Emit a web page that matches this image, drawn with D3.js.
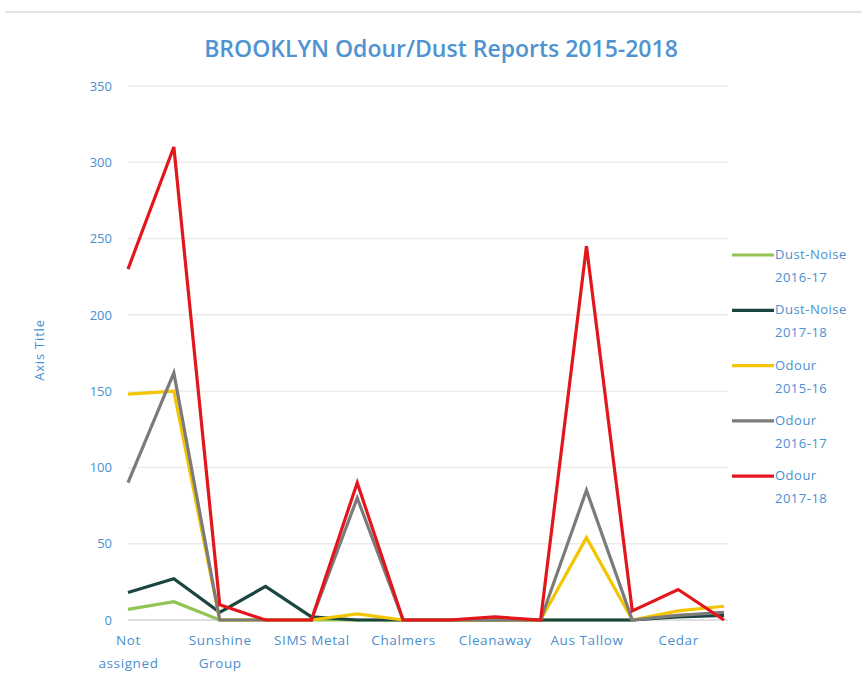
<!DOCTYPE html>
<html lang="en">
<head>
  <meta charset="UTF-8">
  <title>BROOKLYN Odour/Dust Reports 2015-2018</title>
  <script src="https://d3js.org/d3.v7.min.js"></script>
  <style>
    body { margin: 0; background: white; font-family: "Open Sans", Arial, sans-serif; }
    svg { display: block; }
  </style>
</head>
<body>
  <div id="chart"></div>
  <script>
    // categories (every other one is labelled on the axis, like Excel does)
    const categories = ["Not assigned", "cat-1", "Sunshine Group", "cat-3", "SIMS Metal", "cat-5",
      "Chalmers", "cat-7", "Cleanaway", "cat-9", "Aus Tallow", "cat-11", "Cedar", "cat-13"];
    const tickLabels = ["Not assigned", "Sunshine Group", "SIMS Metal", "Chalmers", "Cleanaway", "Aus Tallow", "Cedar"];

    const seriesNames = ["Dust-Noise 2016-17", "Dust-Noise 2017-18", "Odour 2015-16", "Odour 2016-17", "Odour 2017-18"];
    const seriesColors = ["#92c353", "#1b4540", "#f5c400", "#7b7b7b", "#e3161c"];

    const dustNoise1617 = [7, 12, 0, 0, 0, 0, 0, 0, 0, 0, 0, 0, 3, 4];
    const dustNoise1718 = [18, 27, 5, 22, 2, 0, 0, 0, 0, 0, 0, 0, 2, 3];
    const odour1516 = [148, 150, 0, 0, 0, 4, 0, 0, 0, 0, 54, 0, 6, 9];
    const odour1617 = [90, 162, 0, 0, 0, 80, 0, 0, 0, 0, 85, 0, 3, 5];
    const odour1718 = [230, 310, 10, 0, 0, 90, 0, 0, 2, 0, 245, 6, 20, 0];

    const yTicks = [0, 50, 100, 150, 200, 250, 300, 350];

    const series = [dustNoise1617, dustNoise1718, odour1516, odour1617, odour1718];

    const width = 862, height = 676;
    const svg = d3.select("#chart").append("svg")
      .attr("width", width).attr("height", height);

    // thin grey frame line at the top
    svg.append("line").attr("x1", 5).attr("x2", width).attr("y1", 12).attr("y2", 12)
      .attr("stroke", "#e2e2e2").attr("stroke-width", 2);

    const x = d3.scalePoint().domain(categories).range([128, 724]);
    const y = d3.scaleLinear().domain([0, 350]).range([620, 86]);

    const blue = "#4a8fcf";
    const font = "Open Sans, Arial, sans-serif";

    // title
    svg.append("text")
      .attr("x", 441).attr("y", 57)
      .attr("text-anchor", "middle")
      .attr("font-size", 23)
      .attr("font-weight", 600)
      .attr("fill", "#4f93d2")
      .text("BROOKLYN Odour/Dust Reports 2015-2018");

    // gridlines
    svg.append("g").selectAll("line")
      .data(yTicks)
      .join("line")
      .attr("x1", 128).attr("x2", 728)
      .attr("y1", d => y(d)).attr("y2", d => y(d))
      .attr("stroke", d => d === 0 ? "#d4d4d4" : "#ebebeb")
      .attr("stroke-width", 1.5);

    // y axis
    const yAxis = svg.append("g")
      .attr("transform", "translate(112,0)")
      .call(d3.axisLeft(y).tickValues(yTicks).tickSize(0).tickPadding(0));
    yAxis.select(".domain").remove();
    yAxis.selectAll("text").attr("fill", blue).attr("font-size", 13)
      .attr("font-family", font);

    // axis title
    svg.append("text")
      .attr("transform", "translate(44,350) rotate(-90)")
      .attr("text-anchor", "middle")
      .attr("font-size", 13)
      .attr("letter-spacing", 0.8)
      .attr("fill", blue)
      .text("Axis Title");

    // x axis labels (every other category)
    const xAxis = svg.append("g")
      .attr("transform", "translate(0,620)")
      .call(d3.axisBottom(x)
        .tickValues(categories.filter((d, i) => i % 2 === 0))
        .tickSize(0).tickPadding(15));
    xAxis.select(".domain").remove();
    xAxis.selectAll("text")
      .attr("fill", blue).attr("font-size", 13.5)
      .attr("letter-spacing", 0.6)
      .attr("font-family", font)
      .each(function (d, i) {
        const label = tickLabels[i];
        const t = d3.select(this).text(null);
        const lines = (label === "Not assigned" || label === "Sunshine Group") ? label.split(" ") : [label];
        lines.forEach((w, j) => {
          t.append("tspan").attr("x", 0).attr("dy", j === 0 ? "0.71em" : "1.7em").text(w);
        });
      });

    // lines
    const line = d3.line()
      .x((d, i) => x(categories[i]))
      .y(d => y(d));

    svg.append("g").selectAll("path")
      .data(series)
      .join("path")
      .attr("d", d => line(d))
      .attr("fill", "none")
      .attr("stroke", (d, i) => seriesColors[i])
      .attr("stroke-width", 3.2)
      .attr("stroke-linejoin", "miter");

    // legend
    const legend = svg.append("g").selectAll("g")
      .data(seriesNames)
      .join("g")
      .attr("transform", (d, i) => `translate(732,${255 + i * 55.3})`);
    legend.append("line")
      .attr("x1", 0).attr("x2", 42).attr("y1", 0).attr("y2", 0)
      .attr("stroke", (d, i) => seriesColors[i]).attr("stroke-width", 3.2);
    legend.append("text")
      .attr("font-size", 13).attr("fill", blue)
      .attr("letter-spacing", 0.5)
      .each(function (d) {
        const idx = d.lastIndexOf(" ");
        const t = d3.select(this);
        t.append("tspan").attr("x", 43).attr("y", 4).text(d.slice(0, idx));
        t.append("tspan").attr("x", 43).attr("y", 27).text(d.slice(idx + 1));
      });
  </script>
</body>
</html>
